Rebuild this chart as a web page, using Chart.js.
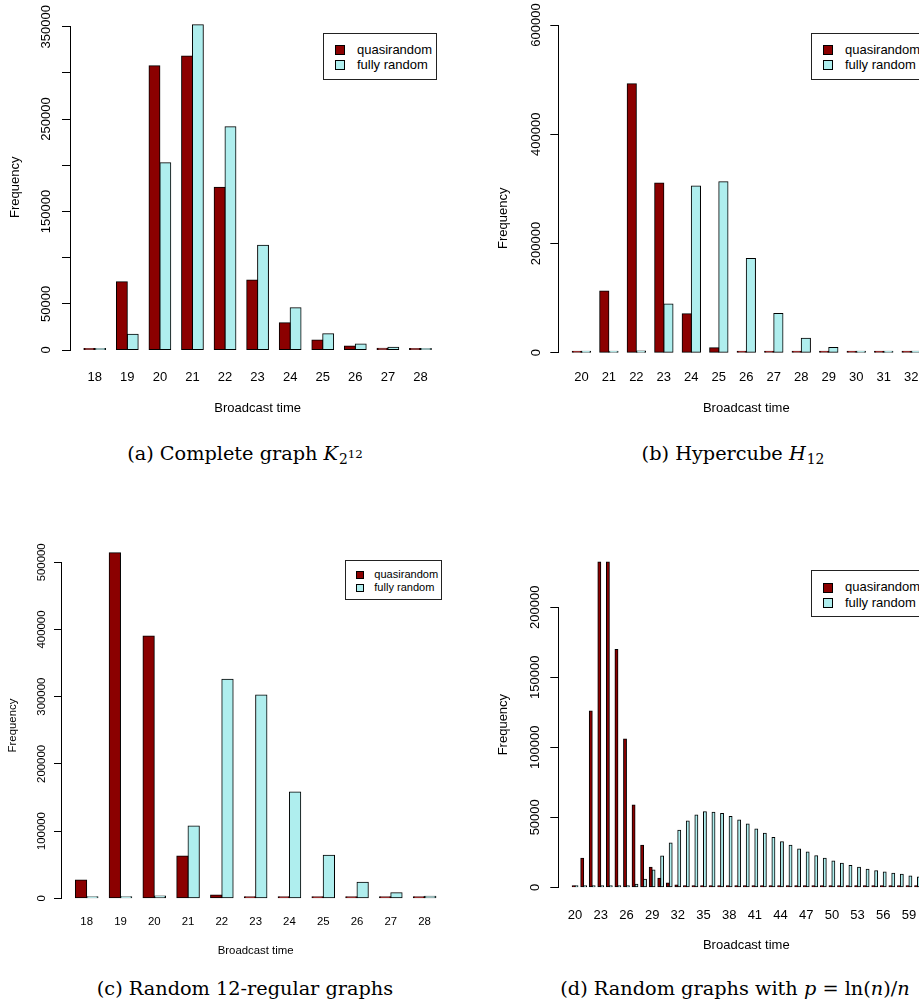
<!DOCTYPE html>
<html>
<head>
<meta charset="utf-8">
<script src="https://cdn.jsdelivr.net/npm/chart.js@4.4.0/dist/chart.umd.min.js"></script>
<style>
  html, body { margin: 0; padding: 0; background: #fff; }
  body { width: 919px; height: 1006px; position: relative; overflow: hidden;
         font-family: "Liberation Sans", Arial, Helvetica, sans-serif; color: #000; }
  canvas { position: absolute; }
  .legend { position: absolute; border: 1px solid #222; box-sizing: border-box; background: #fff; }
  .legend .sw { position: absolute; border: 1px solid #000; box-sizing: border-box; }
  .legend .txt { position: absolute; white-space: nowrap; line-height: 1; }
  .cap { position: absolute; width: 460px; text-align: center; white-space: nowrap;
         font-family: "DejaVu Serif", "Liberation Serif", serif; font-size: 19.3px; line-height: 24px; }
  .cap .sb { font-size: 0.72em; position: relative; top: 0.3em; margin-left: 1px; }
  .cap .sp { font-size: 0.85em; position: relative; top: -0.55em; }
</style>
</head>
<body>
<canvas id="chartA" width="460" height="420" style="left:0;top:0"></canvas>
<canvas id="chartB" width="480" height="420" style="left:460px;top:0"></canvas>
<canvas id="chartC" width="460" height="460" style="left:0;top:500px"></canvas>
<canvas id="chartD" width="480" height="460" style="left:460px;top:500px"></canvas>

<div class="cap" style="left:15px;top:442px">(a) Complete graph <i>K</i><span class="sb">2<span class="sp">12</span></span></div>
<div class="cap" style="left:503px;top:442px">(b) Hypercube <i>H</i><span class="sb">12</span></div>
<div class="cap" style="left:15px;top:977px">(c) Random 12-regular graphs</div>
<div class="cap" style="left:505px;top:977px">(d) Random graphs with <i>p</i> = ln(<i>n</i>)/<i>n</i></div>

<script>
// --- data ---
const SERIES = ['quasirandom', 'fully random'];
const COLORS = ['#8B0000', '#AFEEEE'];

// (a) complete graph
const aTimes = [18, 19, 20, 21, 22, 23, 24, 25, 26, 27, 28];
const aQuasi = [1000, 74000, 307800, 318300, 176100, 75800, 29600, 10800, 4300, 1800, 700];
const aFully = [400, 17000, 202800, 352200, 241800, 113300, 45800, 17700, 6500, 2900, 1000];
const aYTicks = [0, 50000, 100000, 150000, 200000, 250000, 300000, 350000];
const aYLabels = [0, 50000, 150000, 250000, 350000];
const aXLabels = aTimes;

// (b) hypercube
const bTimes = [20, 21, 22, 23, 24, 25, 26, 27, 28, 29, 30, 31, 32];
const bQuasi = [1000, 113000, 492500, 310700, 71400, 9200, 1000, 200, 0, 0, 0, 0, 0];
const bFully = [300, 300, 3000, 89100, 305200, 313100, 172700, 72000, 26300, 9600, 2800, 1000, 300];
const bYTicks = [0, 200000, 400000, 600000];
const bYLabels = bYTicks;
const bXLabels = bTimes;

// (c) random 12-regular graphs
const cTimes = [18, 19, 20, 21, 22, 23, 24, 25, 26, 27, 28];
const cQuasi = [27300, 514300, 390300, 63000, 5000, 300, 0, 0, 0, 0, 0];
const cFully = [0, 0, 3500, 107600, 325900, 302600, 158200, 64000, 23800, 8400, 3000];
const cYTicks = [0, 100000, 200000, 300000, 400000, 500000];
const cYLabels = cYTicks;
const cXLabels = cTimes;

// (d) random graphs, p = ln(n)/n
const dTimes = [20, 21, 22, 23, 24, 25, 26, 27, 28, 29, 30, 31, 32, 33, 34, 35, 36, 37, 38, 39,
                40, 41, 42, 43, 44, 45, 46, 47, 48, 49, 50, 51, 52, 53, 54, 55, 56, 57, 58, 59, 60];
const dQuasi = [500, 20700, 126000, 232400, 232400, 169800, 106000, 58700, 30000, 14300,
                6500, 3100, 1700, 700, 200, 0, 0, 0, 0, 0,
                0, 0, 0, 0, 0, 0, 0, 0, 0, 0, 0, 0, 0, 0, 0, 0, 0, 0, 0, 0, 0];
const dFully = [0, 0, 0, 0, 0, 0, 0, 2100, 5700, 12400,
                22400, 31700, 40700, 47400, 51700, 54000, 53600, 52700, 50500, 48100,
                45200, 41700, 38600, 35500, 32600, 30000, 27400, 25200, 22600, 20700,
                18800, 17100, 15500, 14300, 12900, 11900, 11000, 10000, 9300, 8100, 7300];
const dYTicks = [0, 50000, 100000, 150000, 200000];
const dYLabels = dYTicks;
const dXLabels = [20, 23, 26, 29, 32, 35, 38, 41, 44, 47, 50, 53, 56, 59];

Chart.defaults.font.family = '"Liberation Sans", Arial, Helvetica, sans-serif';
Chart.defaults.color = '#000';

// R draws y labels parallel to the axis and centres "Frequency" on the data range
const rAxisText = {
    id: 'rAxisText',
    afterDraw(chart, args, opts) {
        const ctx = chart.ctx;
        const y = chart.scales.y;
        ctx.save();
        ctx.fillStyle = '#000';
        ctx.font = opts.size + 'px "Liberation Sans", Arial, sans-serif';
        ctx.textAlign = 'center';
        ctx.textBaseline = 'middle';
        opts.labels.forEach(v => {
            ctx.save();
            ctx.translate(y.right - opts.labelGap, y.getPixelForValue(v));
            ctx.rotate(-Math.PI / 2);
            ctx.fillText(String(v), 0, 0);
            ctx.restore();
        });
        ctx.translate(y.right - opts.titleGap, y.getPixelForValue(opts.titleMid));
        ctx.rotate(-Math.PI / 2);
        ctx.fillText('Frequency', 0, 0);
        ctx.restore();
    }
};

function drawPanel(id, times, quasi, fully, yTicks, yLabels, xLabels, lay) {
    const canvas = document.getElementById(id);
    const n = times.length;
    const pad = (1 + 0.04 * (3 * n - 1)) / 3; // barplot gap + 4% axis extension, in groups
    const sets = [quasi, fully].map((vals, k) => ({
        label: SERIES[k],
        data: times.map((t, i) => ({ x: t, y: vals[i] })),
        backgroundColor: COLORS[k],
        borderColor: '#000',
        borderWidth: 1,
        borderSkipped: false,
        inflateAmount: 0.5,  // R strokes the outline on the edge, not inside it
        categoryPercentage: 2 / 3,
        barPercentage: 1,
        minBarLength: 1.5,
        clip: false
    }));

    new Chart(canvas, {
        type: 'bar',
        data: { datasets: sets },
        options: {
            responsive: false,
            animation: false,
            devicePixelRatio: 1,
            layout: { padding: { left: 0, top: lay.top, right: lay.W - lay.right, bottom: 0 } },
            scales: {
                x: {
                    type: 'linear',
                    min: times[0] - pad,
                    max: times[n - 1] + pad,
                    offset: false,
                    grid: { display: false, drawTicks: false, offset: false },
                    border: { display: false },
                    afterBuildTicks: s => { s.ticks = times.map(v => ({ value: v })); },
                    afterFit: s => { s.height = lay.H - lay.bottom; },
                    ticks: {
                        autoSkip: false, maxRotation: 0, minRotation: 0,
                        padding: lay.xPad, font: { size: lay.font }, color: '#000',
                        callback: v => xLabels.includes(v) ? String(v) : ''
                    },
                    title: {
                        display: true, text: 'Broadcast time', color: '#000',
                        font: { size: lay.font }, padding: { top: 0, bottom: lay.titlePad }
                    }
                },
                y: {
                    type: 'linear',
                    min: 0,
                    max: yTicks[yTicks.length - 1],
                    afterBuildTicks: s => { s.ticks = yTicks.map(v => ({ value: v })); },
                    afterFit: s => { s.width = lay.left; },
                    ticks: { display: false },
                    grid: { display: true, drawOnChartArea: false, drawTicks: true,
                            tickLength: lay.tick, color: '#000', lineWidth: 1 },
                    border: { display: true, color: '#000', width: 1 }
                }
            },
            plugins: {
                legend: { display: false },
                tooltip: { enabled: false },
                rAxisText: {
                    labels: yLabels, size: lay.font,
                    labelGap: lay.labelGap, titleGap: lay.titleGap,
                    titleMid: Math.max(...quasi, ...fully) / 2
                }
            }
        },
        plugins: [rAxisText]
    });
}

function addLegend(left, top, k) {
    const box = document.createElement('div');
    box.className = 'legend';
    box.style.left = left + 'px';
    box.style.top = top + 'px';
    box.style.width = (114.6 * k) + 'px';
    box.style.height = (47.3 * k) + 'px';
    box.style.fontSize = (13 * k) + 'px';
    const rows = [16.6, 31.8];
    SERIES.forEach((name, i) => {
        const sw = document.createElement('div');
        sw.className = 'sw';
        sw.style.left = (11.6 * k) + 'px';
        sw.style.top = (rows[i] * k - 5 * k) + 'px';
        sw.style.width = (10 * k) + 'px';
        sw.style.height = (10 * k) + 'px';
        sw.style.background = COLORS[i];
        box.appendChild(sw);
        const t = document.createElement('div');
        t.className = 'txt';
        t.textContent = name;
        t.style.left = (33.3 * k) + 'px';
        t.style.top = (rows[i] * k - 7.2 * k) + 'px';
        box.appendChild(t);
    });
    document.body.appendChild(box);
}

drawPanel('chartA', aTimes, aQuasi, aFully, aYTicks, aYLabels, aXLabels,
    { W: 460, H: 420, left: 70, right: 445.2, top: 26.7, bottom: 350, font: 13, tick: 8,
      xPad: 19.9, titlePad: 4.2, labelGap: 23.3, titleGap: 55 });
drawPanel('chartB', bTimes, bQuasi, bFully, bYTicks, bYLabels, bXLabels,
    { W: 480, H: 420, left: 98.3, right: 474.3, top: 25, bottom: 352.7, font: 13, tick: 8,
      xPad: 17.2, titlePad: 4.2, labelGap: 21.6, titleGap: 55 });
drawPanel('chartC', cTimes, cQuasi, cFully, cYTicks, cYLabels, cXLabels,
    { W: 460, H: 460, left: 61, right: 450.3, top: 62.3, bottom: 398.3, font: 11.4, tick: 7,
      xPad: 17.2, titlePad: 2.5, labelGap: 19.3, titleGap: 47.7 });
drawPanel('chartD', dTimes, dQuasi, dFully, dYTicks, dYLabels, dXLabels,
    { W: 480, H: 460, left: 98.3, right: 474.3, top: 107.3, bottom: 387.3, font: 13, tick: 8,
      xPad: 19.9, titlePad: 7.2, labelGap: 23.3, titleGap: 55 });

addLegend(322.7, 32.7, 1);
addLegend(810.7, 32.7, 1);
addLegend(345, 560, 0.85);
addLegend(810.7, 570, 1);
</script>
</body>
</html>
